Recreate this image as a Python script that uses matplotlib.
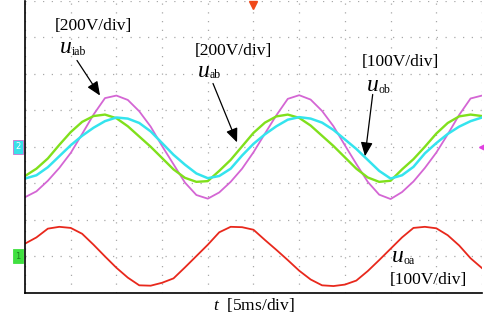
import numpy as np
import matplotlib
matplotlib.use('Agg')
import matplotlib.pyplot as plt
from matplotlib import transforms

plt.rcParams['font.family'] = ['Liberation Serif', 'DejaVu Serif']
plt.rcParams['mathtext.fontset'] = 'custom'
plt.rcParams['mathtext.rm'] = 'Liberation Serif'
plt.rcParams['mathtext.it'] = 'Liberation Serif:italic'

# sample times, 1.25 ms apart (0.25 div at 5ms/div)
t_ms = np.linspace(0, 50, 41)

# traces in screen divisions
u_iab = [-1.38, -1.22, -0.93, -0.58, -0.17, 0.35, 0.88, 1.33, 1.40, 1.28, 0.97, 0.55, 0.02, -0.48, -0.98, -1.32, -1.42,
         -1.25, -0.96, -0.60, -0.15, 0.36, 0.86, 1.31, 1.41, 1.29, 0.98, 0.56, 0.04, -0.47, -0.96, -1.31, -1.43,
         -1.24, -0.95, -0.58, -0.16, 0.34, 0.87, 1.32, 1.40]
u_ab = [-0.80, -0.60, -0.32, 0.05, 0.40, 0.68, 0.84, 0.88, 0.78, 0.56, 0.28, 0.00, -0.31, -0.62, -0.85, -0.96, -0.94,
        -0.66, -0.36, 0.01, 0.38, 0.66, 0.83, 0.88, 0.79, 0.58, 0.30, 0.02, -0.29, -0.60, -0.84, -0.96, -0.93,
        -0.62, -0.34, 0.00, 0.36, 0.65, 0.83, 0.88, 0.84]
u_ob = [-0.87, -0.78, -0.56, -0.26, 0.04, 0.30, 0.52, 0.70, 0.80, 0.77, 0.65, 0.42, 0.10, -0.22, -0.49, -0.73, -0.86,
        -0.80, -0.60, -0.24, 0.08, 0.34, 0.56, 0.74, 0.81, 0.77, 0.66, 0.46, 0.20, -0.06, -0.36, -0.66, -0.87,
        -0.78, -0.55, -0.18, 0.10, 0.35, 0.55, 0.70, 0.80]
u_oa = [-2.65, -2.48, -2.24, -2.19, -2.22, -2.38, -2.68, -3.00, -3.31, -3.58, -3.79, -3.80, -3.72, -3.60, -3.30, -2.99, -2.68,
        -2.34, -2.19, -2.20, -2.27, -2.55, -2.82, -3.10, -3.39, -3.63, -3.79, -3.81, -3.77, -3.66, -3.40, -3.10, -2.79,
        -2.48, -2.22, -2.19, -2.23, -2.42, -2.70, -3.05, -3.32]

ch2_level = 0.0
ch1_level = -3.0
trigger_ms = 25.0

fig = plt.figure(figsize=(4.85, 3.22), dpi=100)
ax = fig.add_axes([25/485, 1-293/322, 457/485, 292.5/322])

ax.plot(t_ms, u_oa, color='#e8281c', lw=1.3)
ax.plot(t_ms, u_iab, color='#d466d4', lw=1.3)
ax.plot(t_ms, u_ab, color='#80e01c', lw=1.7)
ax.plot(t_ms, u_ob, color='#34e4ee', lw=1.8)

ax.set_xlim(0, 50)
ax.set_ylim(-4, 4)
ax.set_xticks(np.arange(0, 51, 5))
ax.set_yticks(np.arange(-4, 5, 1))
ax.tick_params(length=0, labelbottom=False, labelleft=False)
ax.grid(True, color='#a8a8a8', lw=0.9, linestyle=(0, (1, 6)))
for s in ['top', 'right']:
    ax.spines[s].set_visible(False)
for s in ['left', 'bottom']:
    ax.spines[s].set_linewidth(1.2)
    ax.spines[s].set_color('black')


def ulabel(x, y, sub):
    ax.text(x, y, 'u', fontsize=17, style='italic', va='baseline', ha='left')
    ax.annotate(sub, (x, y), xytext=(8.6, -1.2), textcoords='offset points',
                fontsize=8.5, va='baseline', ha='left')


def arrow(x0, y0, x1, y1):
    ax.annotate('', xy=(x1, y1), xytext=(x0, y0),
                arrowprops=dict(arrowstyle='-|>,head_length=0.7,head_width=0.3',
                                color='black', lw=0.9, shrinkA=0, shrinkB=0,
                                mutation_scale=12))


ax.text(3.28, 3.18, '[200V/div]', fontsize=12.5, va='baseline')
ulabel(3.83, 2.56, 'iab')
arrow(5.69, 2.36, 8.21, 1.40)

ax.text(18.6, 2.50, '[200V/div]', fontsize=12.5, va='baseline')
ulabel(18.93, 1.92, 'ab')
arrow(20.57, 1.73, 23.20, 0.12)

ax.text(36.85, 2.21, '[100V/div]', fontsize=12.5, va='baseline')
ulabel(37.42, 1.52, 'ob')
arrow(38.04, 1.43, 37.20, -0.26)

ulabel(40.12, -3.16, 'oa')
ax.text(39.95, -3.75, '[100V/div]', fontsize=12.5, va='baseline')

fig.text(213/485, 1-310/322, '$t$  [5ms/div]', fontsize=12.5, va='baseline', ha='left')

# scope channel / trigger markers
ax.text(-0.75, ch2_level, '2', fontsize=6, color='white', ha='center', va='center', family='DejaVu Sans',
        bbox=dict(boxstyle='square,pad=0.3', fc='#38e0e8', ec='#d070d0', lw=0.6), clip_on=False)
ax.text(-0.75, ch1_level, '1', fontsize=6, color='#208020', ha='center', va='center', family='DejaVu Sans',
        bbox=dict(boxstyle='square,pad=0.3', fc='#40e040', ec='#40e040', lw=0.6), clip_on=False)
down = transforms.offset_copy(ax.transData, fig=fig, y=-4, units='dots')
ax.plot([trigger_ms], [4], marker='v', color='#f04818', ms=6, transform=down, clip_on=False)
ax.plot([50], [ch2_level], marker='<', color='#e040e0', ms=5, clip_on=False)

fig.savefig('out.png', dpi=100)
